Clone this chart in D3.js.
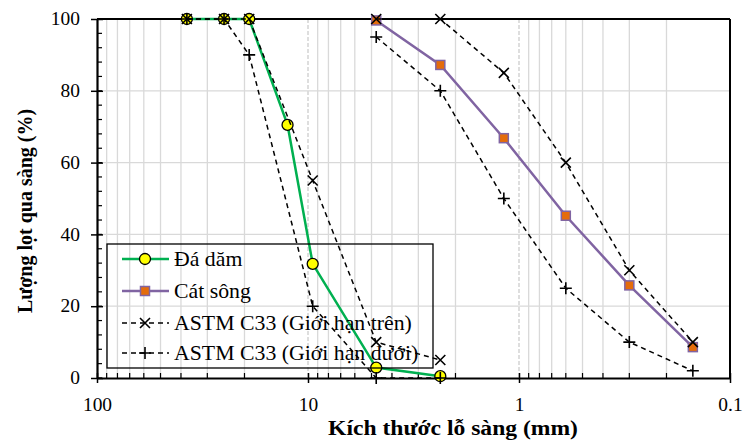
<!DOCTYPE html>
<html>
<head>
<meta charset="utf-8">
<script src="https://cdn.jsdelivr.net/npm/d3@7"></script>
<style>
  body { margin: 0; background: #fff; }
  text { font-family: "Liberation Serif", "Times New Roman", serif; }
</style>
</head>
<body>
<script>
// sieve sizes (mm)
const sieveCoarse = [37.5, 25, 19, 12.5, 9.5, 4.75, 2.36];
const sieveSand = [4.75, 2.36, 1.18, 0.6, 0.3, 0.15];
const sieveLimitCoarse = [37.5, 25, 19, 9.5, 4.75, 2.36];

// passing (%)
const daDam = [100, 100, 100, 70.5, 31.8, 2.9, 0.5];
const catSong = [99.6, 87.2, 66.8, 45.2, 25.8, 8.6];
const upperCoarse = [100, 100, 100, 55, 10, 5];
const lowerCoarse = [100, 100, 90, 20, 0, 0];
const upperSand = [100, 100, 85, 60, 30, 10];
const lowerSand = [95, 80, 50, 25, 10, 2];

const xTicks = [100, 10, 1, 0.1];
const yTicks = [0, 20, 40, 60, 80, 100];

const legendNames = ["Đá dăm", "Cát sông", "ASTM C33 (Giới hạn trên)", "ASTM C33 (Giới hạn dưới)"];

// set the dimensions and margins of the graph
const margin = {top: 19, right: 14, bottom: 63, left: 97},
    width = 744 - margin.left - margin.right,
    height = 441 - margin.top - margin.bottom;

const svgRoot = d3.select("body")
  .append("svg")
    .attr("width", 744)
    .attr("height", 441);
const svg = svgRoot.append("g")
    .attr("transform", `translate(${margin.left}, ${margin.top})`);

const x = d3.scaleLog().domain([100, 0.1]).range([0, width]);
const y = d3.scaleLinear().domain([0, 100]).range([height, 0]);

// minor values for the log grid
const minorX = [];
[10, 1, 0.1].forEach(d => { for (let k = 2; k <= 9; k++) minorX.push(d * k); });
const minorY = d3.range(0, 101, 4);

// grid
svg.append("g").selectAll("line")
  .data(minorX)
  .enter().append("line")
    .attr("x1", d => x(d)).attr("x2", d => x(d))
    .attr("y1", 0).attr("y2", height)
    .attr("stroke", "#d9d9d9").attr("stroke-width", 1.3);
svg.append("g").selectAll("line")
  .data([10, 1])
  .enter().append("line")
    .attr("x1", d => x(d)).attr("x2", d => x(d))
    .attr("y1", 0).attr("y2", height)
    .attr("stroke", "#c8c8c8").attr("stroke-width", 1.2)
    .attr("stroke-dasharray", "4,2");
svg.append("g").selectAll("line")
  .data([20, 40, 60, 80])
  .enter().append("line")
    .attr("x1", 0).attr("x2", width)
    .attr("y1", d => y(d)).attr("y2", d => y(d))
    .attr("stroke", "#d9d9d9").attr("stroke-width", 1.3);

// frame top/right
svg.append("line").attr("x1", 0).attr("x2", width).attr("y1", 0).attr("y2", 0)
  .attr("stroke", "#000").attr("stroke-width", 2);
svg.append("line").attr("x1", width).attr("x2", width).attr("y1", 0).attr("y2", height)
  .attr("stroke", "#000").attr("stroke-width", 2);

// minor ticks (inside)
svg.append("g").selectAll("line")
  .data(minorX)
  .enter().append("line")
    .attr("x1", d => x(d)).attr("x2", d => x(d))
    .attr("y1", height).attr("y2", height - 5)
    .attr("stroke", "#000").attr("stroke-width", 1.2);
svg.append("g").selectAll("line")
  .data(minorY)
  .enter().append("line")
    .attr("x1", 0).attr("x2", 5)
    .attr("y1", d => y(d)).attr("y2", d => y(d))
    .attr("stroke", "#000").attr("stroke-width", 1.2);

// X axis
const xAxis = svg.append("g")
  .attr("transform", `translate(0, ${height})`)
  .call(d3.axisBottom(x).tickValues(xTicks).tickFormat(d3.format("")).tickSizeInner(5).tickSizeOuter(0));
xAxis.select(".domain").attr("stroke-width", 2.2);
xAxis.selectAll(".tick line").attr("stroke-width", 1.5).attr("y1", -5);
xAxis.selectAll("text")
  .attr("font-size", "18px").attr("fill", "#000").attr("font-family", "Liberation Serif")
  .attr("y", 0).attr("dy", "0.71em")
  .attr("transform", "translate(0, 20) scale(1.08, 1)");

// Y axis
const yAxis = svg.append("g")
  .call(d3.axisLeft(y).tickValues(yTicks).tickSizeInner(6).tickSizeOuter(0));
yAxis.select(".domain").attr("stroke-width", 2.2);
yAxis.selectAll(".tick line").attr("stroke-width", 1.5).attr("x1", 6);
yAxis.selectAll("text")
  .attr("font-size", "18px").attr("fill", "#000").attr("font-family", "Liberation Serif")
  .attr("x", 0)
  .attr("transform", "translate(-17, 0) scale(1.08, 1)");

// axis titles
svgRoot.append("text")
  .attr("transform", "translate(453, 435) scale(1.18, 1)")
  .attr("text-anchor", "middle")
  .attr("font-size", "20px").attr("font-weight", "bold")
  .text("Kích thước lỗ sàng (mm)");
svgRoot.append("text")
  .attr("transform", "translate(32, 211) rotate(-90)")
  .attr("text-anchor", "middle")
  .attr("font-size", "20px").attr("font-weight", "bold")
  .text("Lượng lọt qua sàng (%)");

// lines
const line = d3.line().x(d => x(d[0])).y(d => y(d[1]));
const zip = (a, b) => a.map((d, i) => [d, b[i]]);

function drawSeries(pts, color, w, dash) {
  svg.append("path")
    .datum(pts)
    .attr("fill", "none")
    .attr("stroke", color)
    .attr("stroke-width", w)
    .attr("stroke-dasharray", dash)
    .attr("d", line);
}

function drawCircles(g, pts) {
  g.selectAll(null).data(pts).enter().append("circle")
    .attr("cx", d => x(d[0])).attr("cy", d => y(d[1])).attr("r", 5.5)
    .attr("fill", "#ffff00").attr("stroke", "#000").attr("stroke-width", 1.3);
}
function drawSquares(g, pts) {
  g.selectAll(null).data(pts).enter().append("rect")
    .attr("x", d => x(d[0]) - 4.5).attr("y", d => y(d[1]) - 4.5)
    .attr("width", 9).attr("height", 9)
    .attr("fill", "#e46c0a").attr("stroke", "#8064a2").attr("stroke-width", 1.5);
}
function drawCross(g, pts) {
  g.selectAll(null).data(pts).enter().append("path")
    .attr("d", d => { const cx = x(d[0]), cy = y(d[1]), s = 5;
      return `M${cx - s},${cy - s}L${cx + s},${cy + s}M${cx - s},${cy + s}L${cx + s},${cy - s}`; })
    .attr("stroke", "#000").attr("stroke-width", 1.6);
}
function drawPlus(g, pts) {
  g.selectAll(null).data(pts).enter().append("path")
    .attr("d", d => { const cx = x(d[0]), cy = y(d[1]), s = 6;
      return `M${cx - s},${cy}L${cx + s},${cy}M${cx},${cy - s}L${cx},${cy + s}`; })
    .attr("stroke", "#000").attr("stroke-width", 1.6);
}

const ptsDa = zip(sieveCoarse, daDam);
const ptsCat = zip(sieveSand, catSong);
const ptsUC = zip(sieveLimitCoarse, upperCoarse);
const ptsLC = zip(sieveLimitCoarse, lowerCoarse);
const ptsUS = zip(sieveSand, upperSand);
const ptsLS = zip(sieveSand, lowerSand);

drawSeries(ptsDa, "#00b050", 2.5, null);
drawCircles(svg.append("g"), ptsDa);
drawSeries(ptsCat, "#8064a2", 2.5, null);
drawSquares(svg.append("g"), ptsCat);
drawSeries(ptsUC, "#000", 1.5, "5,4");
drawSeries(ptsUS, "#000", 1.5, "5,4");
drawCross(svg.append("g"), ptsUC.concat(ptsUS));
drawSeries(ptsLC, "#000", 1.5, "5,4");
drawSeries(ptsLS, "#000", 1.5, "5,4");
drawPlus(svg.append("g"), ptsLC.concat(ptsLS));

// legend
const legend = svgRoot.append("g");
legend.append("rect")
  .attr("x", 107).attr("y", 244).attr("width", 326).attr("height", 124)
  .attr("fill", "none").attr("stroke", "#000").attr("stroke-width", 1.3);
const rowY = [259, 291, 323, 353];
legendNames.forEach((name, i) => {
  const ly = rowY[i];
  const lg = legend.append("g");
  if (i < 2) {
    lg.append("line").attr("x1", 122).attr("x2", 169).attr("y1", ly).attr("y2", ly)
      .attr("stroke", i === 0 ? "#00b050" : "#8064a2").attr("stroke-width", 2.5);
  } else {
    lg.append("line").attr("x1", 122).attr("x2", 169).attr("y1", ly).attr("y2", ly)
      .attr("stroke", "#000").attr("stroke-width", 1.5).attr("stroke-dasharray", "5,4");
  }
  // marker drawn in pixel space at (145, ly)
  const mx = x.invert(145 - margin.left), my = y.invert(ly - margin.top);
  const mg = lg.append("g").attr("transform", `translate(${margin.left}, ${margin.top})`);
  if (i === 0) drawCircles(mg, [[mx, my]]);
  if (i === 1) drawSquares(mg, [[mx, my]]);
  if (i === 2) drawCross(mg, [[mx, my]]);
  if (i === 3) drawPlus(mg, [[mx, my]]);
  lg.append("text")
    .attr("transform", `translate(174, ${ly + 7}) scale(1.09, 1)`)
    .attr("font-size", "20px").text(name);
});
</script>
</body>
</html>
